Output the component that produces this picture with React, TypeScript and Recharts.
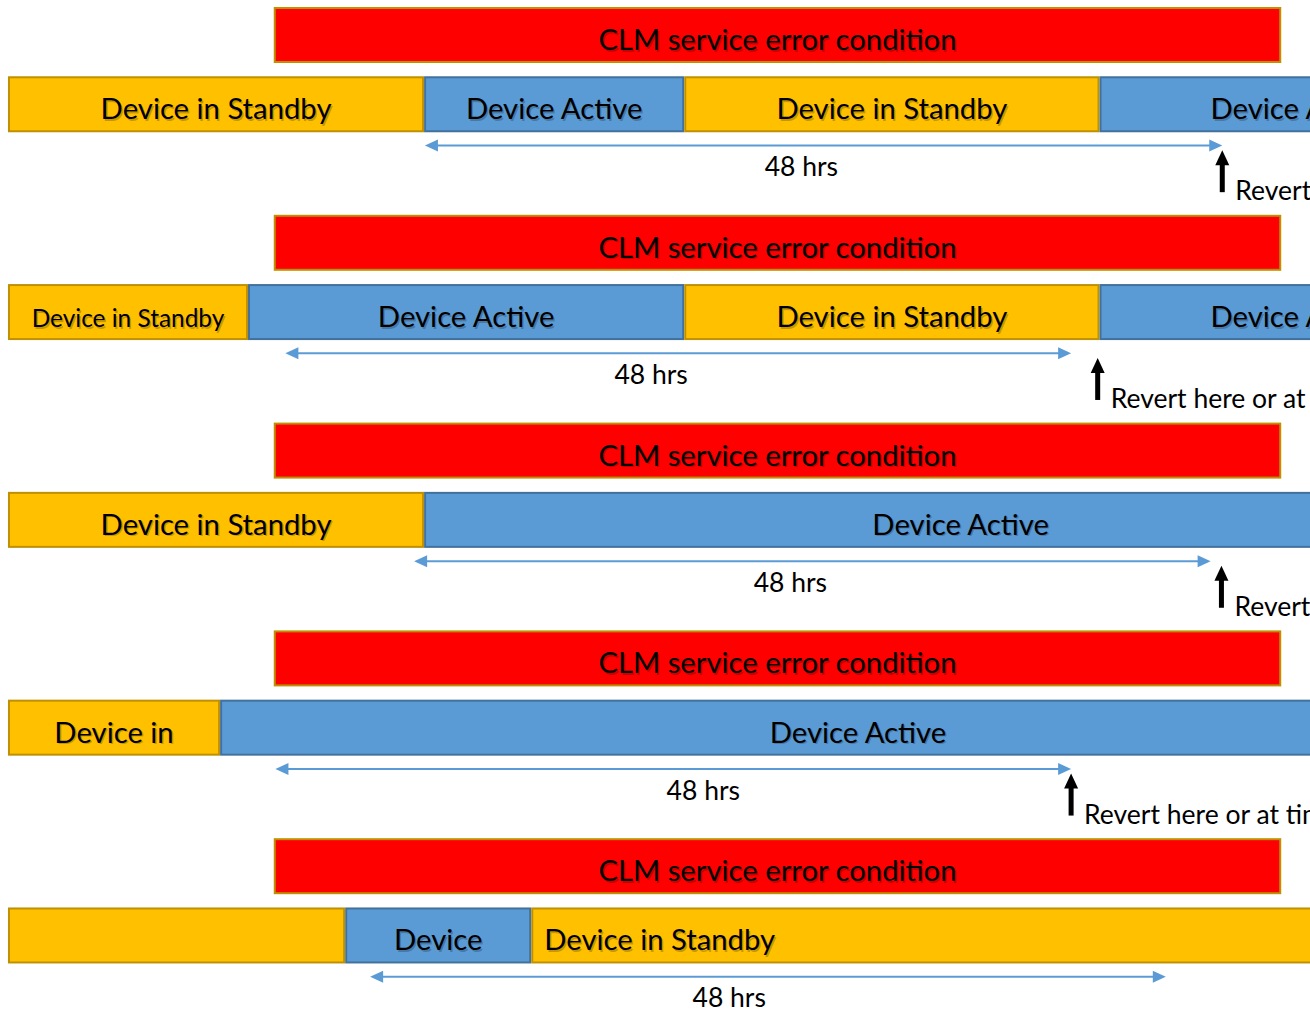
import React from "react";
import { BarChart, Bar, XAxis, YAxis, ReferenceDot } from "recharts";

// the diagram runs past the right edge of the page; the wrapper crops it
const CHART_WIDTH = 1503;
const CHART_HEIGHT = 1039;
const FONT = "Lato, 'Open Sans', sans-serif";
const FONT_SCALE = 0.915;
const BAR_SIZE = 56;

// hours, measured from the left edge of every timeline
const X_DOMAIN: [number, number] = [-0.48, 90];

const TIMELINES = ["t1", "t2", "t3", "t4", "t5"];

const ERROR_START = [16.0, 16.0, 16.0, 16.0, 16.0];
const ERROR_HOURS = [60.65, 60.65, 60.65, 60.65, 60.65];
const ERROR_LABEL = "CLM service error condition";

const DEVICE_STATES = [
  ["standby", "active", "standby", "active"],
  ["standby", "active", "standby", "active"],
  ["standby", "active"],
  ["standby", "active"],
  ["standby", "active", "standby"],
];
const DEVICE_HOURS = [
  [25.05, 15.66, 25.0, 24.0],
  [14.45, 26.26, 25.0, 24.0],
  [25.05, 64.6],
  [12.77, 76.8],
  [20.3, 11.2, 58.2],
];
const DEVICE_LABELS = [
  ["Device in Standby", "Device Active", "Device in Standby", "Device Active"],
  ["Device in Standby", "Device Active", "Device in Standby", "Device Active"],
  ["Device in Standby", "Device Active"],
  ["Device in", "Device Active"],
  ["", "Device", "Device in Standby"],
];

const WINDOW_START = [25.1, 16.7, 24.45, 16.1, 21.8];
const WINDOW_HOURS = [48.0, 47.3, 47.95, 47.9, 47.9];
const WINDOW_LABEL_AT = [47.76, 38.72, 47.1, 41.86, 43.42];
const WINDOW_LABEL = "48 hrs";

const REVERT_AT = [73.1, 65.6, 73.05, 64.0];
const REVERT_LABEL = "Revert here or at time-out";

const SEGMENT_KEYS = ["s0", "s1", "s2", "s3"];

const COLORS: Record<string, { fill: string; stroke: string }> = {
  standby: { fill: "#FFC000", stroke: "#BF9000" },
  active: { fill: "#5B9BD5", stroke: "#41719C" },
  error: { fill: "#FF0000", stroke: "#BF9000" },
};
const ARROW_BLUE = "#5B9BD5";

// per "timeline-segment" label tweaks
const LABEL_STYLE: Record<string, { size?: number; anchor?: "start" }> = {
  "1-0": { size: 26.7 },
  "4-2": { anchor: "start" },
};

const rows = TIMELINES.flatMap((t, i) => {
  const device: Record<string, any> = { id: `${t}-device`, kind: "device", timeline: i };
  DEVICE_HOURS[i].forEach((h, k) => {
    device[SEGMENT_KEYS[k]] = h;
  });
  return [
    { id: `${t}-error`, kind: "error", timeline: i, s0: ERROR_START[i], s1: ERROR_HOURS[i] },
    device,
    { id: `${t}-window`, kind: "window", timeline: i, s0: WINDOW_START[i], s1: WINDOW_HOURS[i] },
  ];
});

function ShadowText({ x, y, size, anchor = "middle", children }: any) {
  return (
    <g fontFamily={FONT} fontSize={size * FONT_SCALE} textAnchor={anchor}>
      <text x={x + 1.5} y={y + 1.5} fill="#000" fillOpacity={0.22}>
        {children}
      </text>
      <text x={x} y={y} fill="#000">
        {children}
      </text>
    </g>
  );
}

function Box({ x, y, width, height, kind, label, size = 32, anchor }: any) {
  const c = COLORS[kind];
  const tx = anchor === "start" ? x + 13 : x + width / 2;
  return (
    <g>
      <rect x={x + 1} y={y + 1} width={width - 2} height={height - 2} fill={c.fill} stroke={c.stroke} strokeWidth={2} />
      {label ? (
        <ShadowText x={tx} y={y + height / 2 + 15} size={size} anchor={anchor}>
          {label}
        </ShadowText>
      ) : null}
    </g>
  );
}

function WindowArrow({ x, y, width }: any) {
  const head = 13;
  return (
    <g>
      <line x1={x + head - 1} x2={x + width - head + 1} y1={y} y2={y} stroke={ARROW_BLUE} strokeWidth={2} />
      <polygon points={`${x},${y} ${x + head},${y - 6} ${x + head},${y + 6}`} fill={ARROW_BLUE} />
      <polygon points={`${x + width},${y} ${x + width - head},${y - 6} ${x + width - head},${y + 6}`} fill={ARROW_BLUE} />
    </g>
  );
}

function makeSegment(seg: number) {
  return (props: any) => {
    const { x, y, width, height, payload } = props;
    if (!payload || !(width > 0)) return <g />;
    const i = payload.timeline;
    if (payload.kind === "error") {
      if (seg !== 1) return <g />;
      return <Box x={x} y={y} width={width} height={height} kind="error" label={ERROR_LABEL} />;
    }
    if (payload.kind === "window") {
      if (seg !== 1) return <g />;
      return <WindowArrow x={x} y={y} width={width} />;
    }
    const state = DEVICE_STATES[i][seg];
    if (!state) return <g />;
    const style = LABEL_STYLE[`${i}-${seg}`] || {};
    return (
      <Box
        x={x}
        y={y}
        width={width}
        height={height}
        kind={state}
        label={DEVICE_LABELS[i][seg]}
        size={style.size}
        anchor={style.anchor}
      />
    );
  };
}

function WindowLabel({ cx, cy }: any) {
  if (cx == null || cy == null) return <g />;
  return (
    <text x={cx} y={cy + 3} textAnchor="middle" fontFamily={FONT} fontSize={29 * FONT_SCALE} fill="#000">
      {WINDOW_LABEL}
    </text>
  );
}

function RevertMarker({ cx, cy }: any) {
  if (cx == null || cy == null) return <g />;
  const tip = cy - 23;
  return (
    <g>
      <polygon points={`${cx},${tip} ${cx - 7},${tip + 15} ${cx + 7},${tip + 15}`} fill="#000" />
      <rect x={cx - 2.5} y={tip + 13} width={5} height={29} fill="#000" />
      <text x={cx + 13} y={cy + 27} fontFamily={FONT} fontSize={29 * FONT_SCALE} fill="#000">
        {REVERT_LABEL}
      </text>
    </g>
  );
}

export default function App() {
  return (
    <div
      style={{
        position: "absolute",
        left: 0,
        top: 0,
        width: 1310,
        height: 1023,
        overflow: "hidden",
        background: "#fff",
      }}
    >
      <BarChart
        width={CHART_WIDTH}
        height={CHART_HEIGHT}
        data={rows}
        layout="vertical"
        barSize={BAR_SIZE}
        margin={{ top: 0, right: 0, bottom: 0, left: 0 }}
      >
        <XAxis type="number" domain={X_DOMAIN} hide />
        <YAxis type="category" dataKey="id" hide />
        {SEGMENT_KEYS.map((k, seg) => (
          <Bar key={k} dataKey={k} stackId="timeline" isAnimationActive={false} shape={makeSegment(seg)} />
        ))}
        {WINDOW_LABEL_AT.map((h, i) => (
          <ReferenceDot
            key={`w${i}`}
            x={h}
            y={`${TIMELINES[i]}-window`}
            r={1}
            ifOverflow="visible"
            shape={(p: any) => <WindowLabel {...p} />}
          />
        ))}
        {REVERT_AT.map((h, i) => (
          <ReferenceDot
            key={`r${i}`}
            x={h}
            y={`${TIMELINES[i]}-window`}
            r={1}
            ifOverflow="visible"
            shape={(p: any) => <RevertMarker {...p} />}
          />
        ))}
      </BarChart>
    </div>
  );
}
